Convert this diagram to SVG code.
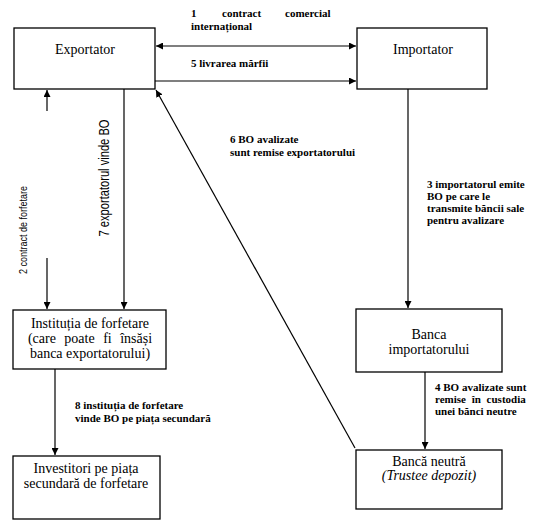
<svg xmlns="http://www.w3.org/2000/svg" width="540" height="523" viewBox="0 0 540 523">
<style>
.box{fill:#fff;stroke:#000;stroke-width:1.3}
.n{font-family:"Liberation Serif","Times New Roman",serif;font-size:14px;fill:#000;text-anchor:middle}
.lbl{font-family:"Liberation Serif","Times New Roman",serif;font-size:11px;font-weight:bold;fill:#000}
.c line{stroke:#000;stroke-width:1.2}
.r{font-family:"Liberation Sans",Arial,sans-serif;fill:#000;text-anchor:middle}
</style>
<defs>
<marker id="ah" viewBox="0 0 10 10" refX="10" refY="5" markerWidth="7" markerHeight="7" markerUnits="userSpaceOnUse" orient="auto-start-reverse">
<path d="M0,0 L10,5 L0,10 z" fill="#000"/>
</marker>
</defs>
<rect width="540" height="523" fill="#fff"/>
<g class="c" id="connectors">
<line x1="156" y1="46" x2="356" y2="46" marker-start="url(#ah)" marker-end="url(#ah)"/>
<line x1="155" y1="81" x2="356" y2="81" marker-end="url(#ah)"/>
<line x1="47" y1="111" x2="47" y2="90" marker-end="url(#ah)"/>
<line x1="47" y1="258" x2="47" y2="309" marker-end="url(#ah)"/>
<line x1="124" y1="89" x2="124" y2="309" marker-end="url(#ah)"/>
<line x1="355" y1="448" x2="156" y2="90" marker-end="url(#ah)"/>
<line x1="408" y1="89" x2="408" y2="308" marker-end="url(#ah)"/>
<line x1="55" y1="369" x2="55" y2="455" marker-end="url(#ah)"/>
<line x1="425" y1="372" x2="425" y2="449" marker-end="url(#ah)"/>
</g>
<g id="labels">
<text class="lbl" x="191" y="17">1</text>
<text class="lbl" x="222" y="17">contract</text>
<text class="lbl" x="285" y="17">comercial</text>
<text class="lbl" x="191" y="30" font-weight="normal">internațional</text>
<text class="lbl" x="191" y="67">5 livrarea mărfii</text>
<text class="lbl" x="230" y="143" font-weight="normal">6 BO avalizate</text>
<text class="lbl" x="230" y="156" font-weight="normal">sunt remise exportatorului</text>
<text class="lbl" x="427" y="188">3 importatorul emite</text>
<text class="lbl" x="427" y="200">BO pe care le</text>
<text class="lbl" x="427" y="212">transmite băncii sale</text>
<text class="lbl" x="427" y="224">pentru avalizare</text>
<text class="lbl" x="75" y="409" font-weight="normal">8 instituția de forfetare</text>
<text class="lbl" x="75" y="422" font-weight="normal">vinde BO pe piața secundară</text>
<text class="lbl" x="435" y="391" font-size="10">4 BO avalizate sunt</text>
<text class="lbl" x="435" y="403" font-weight="normal" word-spacing="3">remise în custodia</text>
<text class="lbl" x="435" y="415" font-weight="normal">unei bănci neutre</text>
<text class="r" font-size="11" transform="translate(27,230) rotate(-90)" textLength="88" lengthAdjust="spacingAndGlyphs">2 contract de forfetare</text>
<text class="r" font-size="15" transform="translate(109,178) rotate(-90)" textLength="117" lengthAdjust="spacingAndGlyphs">7 exportatorul vinde BO</text>
</g>
<g id="exportator">
<rect class="box" x="14" y="28" width="141" height="61"/>
<text class="n" x="85" y="54">Exportator</text>
</g>
<g id="importator">
<rect class="box" x="357" y="28" width="130" height="61"/>
<text class="n" x="423" y="54">Importator</text>
</g>
<g id="institutia">
<rect class="box" x="13" y="310" width="153" height="59"/>
<text class="n" x="90" y="328">Instituția de forfetare</text>
<text class="n" x="90" y="343" word-spacing="5">(care poate fi însăși</text>
<text class="n" x="90" y="358">banca exportatorului)</text>
</g>
<g id="banca-importatorului">
<rect class="box" x="356" y="309" width="146" height="63"/>
<text class="n" x="429" y="339">Banca</text>
<text class="n" x="429" y="354">importatorului</text>
</g>
<g id="investitori">
<rect class="box" x="13" y="456" width="147" height="63"/>
<text class="n" x="86" y="473">Investitori pe piața</text>
<text class="n" x="86" y="488">secundară de forfetare</text>
</g>
<g id="banca-neutra">
<rect class="box" x="356" y="450" width="146" height="59"/>
<text class="n" x="429" y="466" font-size="13">Bancă neutră</text>
<text class="n" x="429" y="480" font-size="13" font-style="italic">(Trustee depozit)</text>
</g>
</svg>
